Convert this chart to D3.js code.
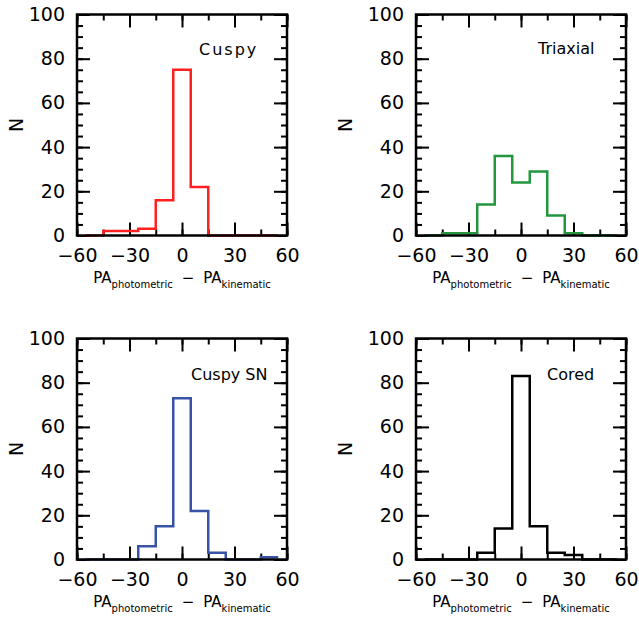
<!DOCTYPE html>
<html>
<head>
<meta charset="utf-8">
<script src="https://cdn.jsdelivr.net/npm/d3@7"></script>
<style>
  body { margin: 0; background: #fff; }
  text { font-family: "DejaVu Sans", sans-serif; fill: #000; }
</style>
</head>
<body>
<div id="chart"></div>
<script>
// histogram bins (centres, width 10) and counts per model
var binCenters = [-50, -40, -30, -20, -10, 0, 10, 20, 30, 40, 50];
var cuspy    = [0, 2, 2, 3, 16, 75, 22, 0, 0, 0, 0];
var triaxial = [0, 1, 1, 14, 36, 24, 29, 9, 1, 0, 0];
var cuspySN  = [0, 0, 0, 6, 15, 73, 22, 3, 0, 0, 1];
var cored    = [0, 0, 0, 3, 14, 83, 15, 3, 2, 0, 0];
var panelNames = ["Cuspy", "Triaxial", "Cuspy SN", "Cored"];
var xTicks = [-60, -30, 0, 30, 60];
var yTicks = [0, 20, 40, 60, 80, 100];

var width = 639, height = 618;
var pw = 210, ph = 221;

// frame positions, label spots, colours
var panels = [
  {data: cuspy,    color: "#ff2020", x: 77,  y: 14.5,  lx: 199, ly: 55,  ls: 2,  nx: -54},
  {data: triaxial, color: "#23963e", x: 416, y: 14.5,  lx: 538, ly: 54,  ls: 0,  nx: -64},
  {data: cuspySN,  color: "#3753a6", x: 77,  y: 338.5, lx: 191, ly: 380, ls: 0,  nx: -54},
  {data: cored,    color: "#000000", x: 416, y: 338.5, lx: 547, ly: 380, ls: 0,  nx: -64}
];

var svg = d3.select("#chart").append("svg")
  .attr("width", width)
  .attr("height", height);

var x = d3.scaleLinear().domain([-60, 60]).range([0, pw]);
var y = d3.scaleLinear().domain([0, 100]).range([ph, 0]);
var binW = binCenters[1] - binCenters[0];

var line = d3.line()
  .x(function (d) { return x(d[0]); })
  .y(function (d) { return y(d[1]); })
  .curve(d3.curveStepAfter);

panels.forEach(function (p, i) {
  var g = svg.append("g").attr("transform", "translate(" + p.x + "," + p.y + ")");

  var xMinor = d3.range(-60, 61, 15);
  var yMinor = d3.range(0, 101, 5);

  // minor ticks, all four sides, pointing in
  g.append("g").attr("transform", "translate(0," + ph + ")")
    .call(d3.axisBottom(x).tickValues(xMinor).tickSize(-6).tickFormat(""));
  g.append("g")
    .call(d3.axisTop(x).tickValues(xMinor).tickSize(-6).tickFormat(""));
  g.append("g")
    .call(d3.axisLeft(y).tickValues(yMinor).tickSize(-6).tickFormat(""));
  g.append("g").attr("transform", "translate(" + pw + ",0)")
    .call(d3.axisRight(y).tickValues(yMinor).tickSize(-6).tickFormat(""));

  // major ticks + labels
  g.append("g").attr("class", "xlab").attr("transform", "translate(0," + ph + ")")
    .call(d3.axisBottom(x).tickValues(xTicks).tickSize(-13).tickPadding(13));
  g.append("g")
    .call(d3.axisTop(x).tickValues(xTicks).tickSize(-13).tickFormat(""));
  g.append("g").attr("class", "ylab")
    .call(d3.axisLeft(y).tickValues(yTicks).tickSize(-13).tickPadding(12));
  g.append("g").attr("transform", "translate(" + pw + ",0)")
    .call(d3.axisRight(y).tickValues(yTicks).tickSize(-13).tickFormat(""));

  g.selectAll(".domain").remove();
  g.selectAll(".tick line").attr("stroke", "#000").attr("stroke-width", 2);
  g.selectAll(".tick text").style("font-size", "19px").attr("fill", "#000");

  // histogram outline
  var pts = p.data.map(function (v, j) { return [binCenters[j] - binW / 2, v]; });
  pts.push([binCenters[binCenters.length - 1] + binW / 2, p.data[p.data.length - 1]]);
  g.append("path")
    .attr("d", line(pts))
    .attr("fill", "none")
    .attr("stroke", p.color)
    .attr("stroke-width", 2.5);

  // frame
  g.append("rect")
    .attr("width", pw).attr("height", ph)
    .attr("fill", "none").attr("stroke", "#000").attr("stroke-width", 2.5);

  // N label
  g.append("text")
    .attr("transform", "translate(" + p.nx + "," + (ph / 2) + ") rotate(-90)")
    .attr("text-anchor", "middle")
    .style("font-size", "19px")
    .text("N");

  // x label with subscripts
  var xl = g.append("text")
    .attr("x", pw / 2).attr("y", 268)
    .attr("text-anchor", "middle")
    .style("font-size", "15px");
  xl.append("tspan").text("PA");
  xl.append("tspan").attr("dy", 5).style("font-size", "10px").text("photometric");
  xl.append("tspan").attr("dy", -5).attr("dx", 9).text("\u2212");
  xl.append("tspan").attr("dx", 9).text("PA");
  xl.append("tspan").attr("dy", 5).style("font-size", "10px").text("kinematic");

  // model name
  svg.append("text")
    .attr("x", p.lx).attr("y", p.ly)
    .style("font-size", "16px")
    .style("letter-spacing", p.ls + "px")
    .text(panelNames[i]);
});
</script>
</body>
</html>
